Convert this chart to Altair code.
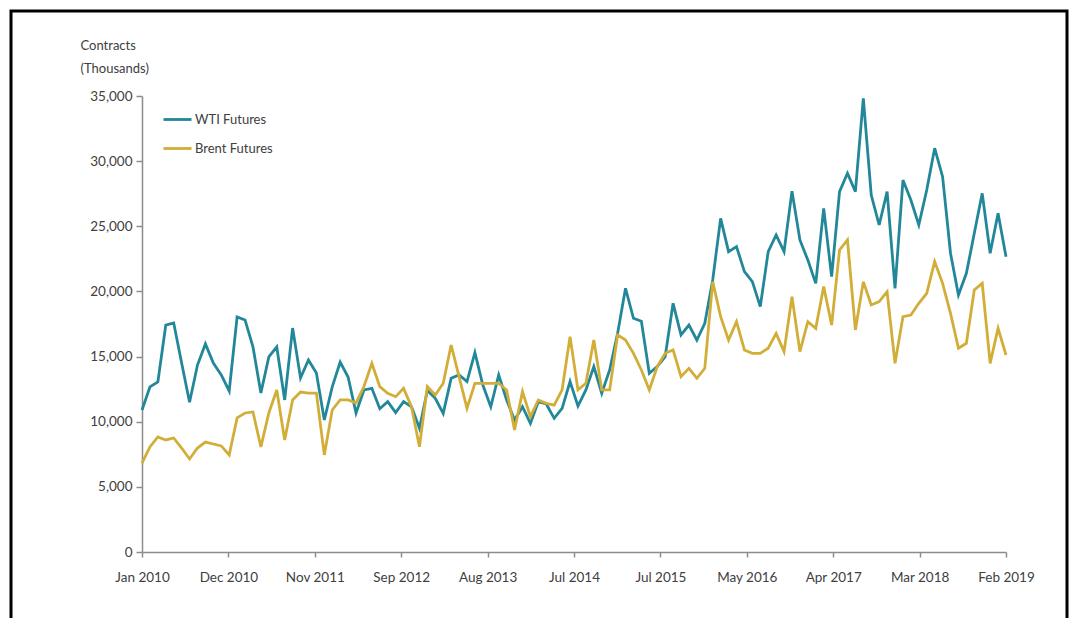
import altair as alt
import pandas as pd

# Monthly index 0..109 (Jan 2010 .. Feb 2019)
months = list(range(110))

wti = [10900, 12670, 13050, 17420, 17580, 14500, 11500, 14350, 15970, 14500,
       13590, 12360, 18040, 17810, 15740, 12200, 14970, 15740, 11670, 17190,
       13360, 14740, 13740, 10130, 12670, 14580, 13430, 10670, 12440, 12560,
       11000, 11540, 10700, 11540, 11150, 9500, 12400, 11800, 10640, 13330,
       13590, 13080, 15300, 12820, 11150, 13600, 11670, 10130, 11150, 9880,
       11540, 11360, 10260, 11030, 13080, 11200, 12440, 14230, 12180, 13970,
       16780, 20240, 17940, 17710, 13710, 14230, 14990, 19090, 16660, 17420,
       16270, 17550, 20880, 25610, 23050, 23440, 21520, 20750, 18830, 23050,
       24330, 23050, 27700, 23950, 22410, 20620, 26380, 21130, 27660, 29070,
       27660, 34820, 27400, 25100, 27660, 20240, 28550, 27020, 25100, 27790,
       30990, 28810, 22930, 19730, 21390, 24460, 27530, 22930, 26000, 22670]

brent = [6830, 8060, 8830, 8600, 8750, 7980, 7140, 7980, 8440, 8290,
         8140, 7450, 10290, 10670, 10750, 8060, 10670, 12440, 8600, 11670,
         12280, 12200, 12200, 7450, 10900, 11670, 11670, 11440, 12700, 14480,
         12690, 12180, 11920, 12560, 11150, 8080, 12690, 12050, 12950, 15890,
         13460, 11030, 12950, 12950, 12950, 12950, 12440, 9360, 12310, 10390,
         11670, 11410, 11280, 12440, 16530, 12440, 12950, 16270, 12440, 12440,
         16660, 16270, 15250, 13970, 12440, 14230, 15250, 15510, 13460, 14100,
         13330, 14100, 20750, 18060, 16270, 17680, 15510, 15250, 15250, 15640,
         16780, 15380, 19600, 15380, 17680, 17170, 20370, 17420, 23180, 23950,
         17040, 20750, 18960, 19220, 19980, 14480, 18060, 18190, 19090, 19860,
         22290, 20620, 18320, 15640, 16020, 20110, 20620, 14480, 17170, 15120]

tick_labels = ["Jan 2010", "Dec 2010", "Nov 2011", "Sep 2012", "Aug 2013",
               "Jul 2014", "Jul 2015", "May 2016", "Apr 2017", "Mar 2018", "Feb 2019"]
series_names = ["WTI Futures", "Brent Futures"]
series_colors = ["#23879a", "#d2ad38"]
y_ticks = [0, 5000, 10000, 15000, 20000, 25000, 30000, 35000]

df = pd.DataFrame({
    "i": months + months,
    "value": wti + brent,
    "series": [series_names[0]] * len(months) + [series_names[1]] * len(months),
})

step = 109 / 10
tick_vals = [k * step for k in range(len(tick_labels))]
label_expr = "[" + ",".join("'" + t + "'" for t in tick_labels) + "][round(datum.value / " + str(step) + ")]"

FONT = "Lato"

lines = alt.Chart(df).mark_line(strokeWidth=2.8).encode(
    x=alt.X("i:Q",
            scale=alt.Scale(domain=[0, 109], nice=False, zero=False),
            axis=alt.Axis(values=tick_vals, labelExpr=label_expr, title=None, grid=False,
                          tickSize=5, labelPadding=13, labelFlush=False, labelOverlap=False)),
    y=alt.Y("value:Q",
            scale=alt.Scale(domain=[0, 35000], nice=False),
            axis=alt.Axis(values=y_ticks, format=",.0f", grid=False, tickSize=6, labelPadding=4,
                          title=["Contracts", "(Thousands)"], titleAngle=0, titleAlign="left",
                          titleBaseline="top", titleX=-62, titleY=-57, titleFontWeight="normal",
                          titleFontSize=13, titleLineHeight=23, titleColor="#404040",
                          titleFont=FONT)),
    color=alt.Color("series:N",
                    scale=alt.Scale(domain=series_names, range=series_colors),
                    legend=alt.Legend(title=None, orient="none", legendX=20, legendY=8,
                                      symbolType="stroke", symbolSize=784, symbolStrokeWidth=2.8,
                                      labelFontSize=13, labelFont=FONT, labelColor="#404040",
                                      labelOffset=2, rowPadding=6, padding=0)),
)

frame = alt.Chart(pd.DataFrame({"a": [0]})).mark_rect(
    fillOpacity=0, stroke="black", strokeWidth=3
).encode(
    x=alt.value(-131), x2=alt.value(925), y=alt.value(-85), y2=alt.value(620)
)

chart = alt.layer(lines, frame).properties(
    width=864, height=456,
    autosize=alt.AutoSizeParams(type="none"),
    padding={"left": 134, "top": 88, "right": 64, "bottom": 66},
).configure_view(stroke=None).configure_axis(
    domainColor="#8c8c8c", tickColor="#8c8c8c", domainWidth=1.5, tickWidth=1.5,
    labelColor="#404040", labelFont=FONT, labelFontSize=13.5,
)

chart.save("out.html", embed_options={"renderer": "svg", "actions": False})
